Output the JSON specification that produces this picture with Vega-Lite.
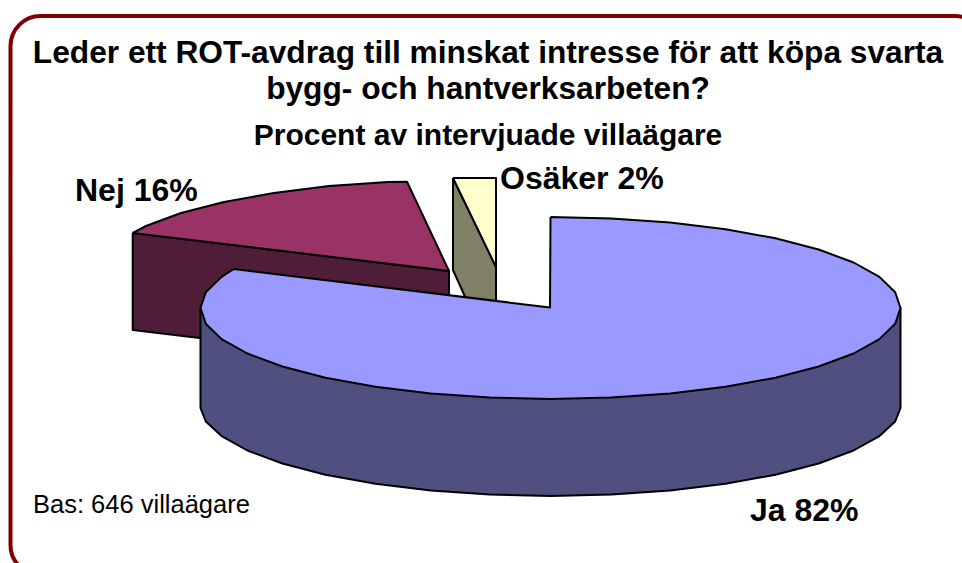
{
"$schema":"https://vega.github.io/schema/vega-lite/v6.json",
"width":962,"height":563,"padding":0,"autosize":{"type":"none"},
"background":"white",
"config":{"view":{"stroke":null}},
"title":{"text":["Leder ett ROT-avdrag till minskat intresse för att köpa svarta","bygg- och hantverksarbeten?"],"subtitle":"Procent av intervjuade villaägare","anchor":"start","frame":"group","align":"center","dx":488,"baseline":"alphabetic","offset":-176,"font":"Liberation Sans","fontSize":31.7,"fontWeight":"bold","lineHeight":36,"color":"black","subtitleFont":"Liberation Sans","subtitleFontSize":30,"subtitleFontWeight":"bold","subtitleColor":"black","subtitlePadding":14},
"datasets":{
"frame":[{"x":10.5,"x2":985,"y":16,"y2":575}],
"outline":[
{"face":"Nej sida","i":0,"x":132.7,"y":233},{"face":"Nej sida","i":1,"x":449,"y":271},{"face":"Nej sida","i":2,"x":449,"y":368},{"face":"Nej sida","i":3,"x":132.7,"y":330},{"face":"Nej sida","i":4,"x":132.7,"y":233},
{"face":"Nej","i":0,"x":132.7,"y":233},{"face":"Nej","i":1,"x":146,"y":226},{"face":"Nej","i":2,"x":181,"y":213},{"face":"Nej","i":3,"x":224,"y":202},{"face":"Nej","i":4,"x":274,"y":193},{"face":"Nej","i":5,"x":329,"y":186},{"face":"Nej","i":6,"x":388,"y":182},{"face":"Nej","i":7,"x":407,"y":181.7},{"face":"Nej","i":8,"x":449,"y":271},{"face":"Nej","i":9,"x":132.7,"y":233},
{"face":"Osäker sida","i":0,"x":453,"y":178},{"face":"Osäker sida","i":1,"x":496,"y":267},{"face":"Osäker sida","i":2,"x":496,"y":310},{"face":"Osäker sida","i":3,"x":471,"y":310},{"face":"Osäker sida","i":4,"x":453,"y":270},{"face":"Osäker sida","i":5,"x":453,"y":178},
{"face":"Osäker","i":0,"x":453,"y":178},{"face":"Osäker","i":1,"x":496,"y":178},{"face":"Osäker","i":2,"x":496,"y":267},{"face":"Osäker","i":3,"x":453,"y":178},
{"face":"Ja sida","i":0,"x":200.5,"y":308},{"face":"Ja sida","i":1,"x":200.5,"y":408},{"face":"Ja sida","i":2,"x":205.8,"y":421.5},{"face":"Ja sida","i":3,"x":221.6,"y":436.1},{"face":"Ja sida","i":4,"x":247.4,"y":450.5},{"face":"Ja sida","i":5,"x":282.4,"y":463.5},{"face":"Ja sida","i":6,"x":325.5,"y":474.7},{"face":"Ja sida","i":7,"x":375.5,"y":483.8},{"face":"Ja sida","i":8,"x":430.8,"y":490.5},{"face":"Ja sida","i":9,"x":489.7,"y":494.6},{"face":"Ja sida","i":10,"x":550.5,"y":496},{"face":"Ja sida","i":11,"x":611.3,"y":494.6},{"face":"Ja sida","i":12,"x":670.2,"y":490.5},{"face":"Ja sida","i":13,"x":725.5,"y":483.8},{"face":"Ja sida","i":14,"x":775.5,"y":474.7},{"face":"Ja sida","i":15,"x":818.6,"y":463.5},{"face":"Ja sida","i":16,"x":853.6,"y":450.5},{"face":"Ja sida","i":17,"x":879.4,"y":436.1},{"face":"Ja sida","i":18,"x":895.2,"y":421.5},{"face":"Ja sida","i":19,"x":900.5,"y":408},{"face":"Ja sida","i":20,"x":900.5,"y":308},{"face":"Ja sida","i":21,"x":200.5,"y":308},
{"face":"Ja","i":0,"x":550.5,"y":217},{"face":"Ja","i":1,"x":611.3,"y":218.4},{"face":"Ja","i":2,"x":670.2,"y":222.5},{"face":"Ja","i":3,"x":725.5,"y":229.2},{"face":"Ja","i":4,"x":775.5,"y":238.3},{"face":"Ja","i":5,"x":818.6,"y":249.5},{"face":"Ja","i":6,"x":853.6,"y":262.5},{"face":"Ja","i":7,"x":879.4,"y":276.9},{"face":"Ja","i":8,"x":895.2,"y":292.2},{"face":"Ja","i":9,"x":900.5,"y":308},{"face":"Ja","i":10,"x":895.2,"y":323.8},{"face":"Ja","i":11,"x":879.4,"y":339.1},{"face":"Ja","i":12,"x":853.6,"y":353.5},{"face":"Ja","i":13,"x":818.6,"y":366.5},{"face":"Ja","i":14,"x":775.5,"y":377.7},{"face":"Ja","i":15,"x":725.5,"y":386.8},{"face":"Ja","i":16,"x":670.2,"y":393.5},{"face":"Ja","i":17,"x":611.3,"y":397.6},{"face":"Ja","i":18,"x":550.5,"y":399},{"face":"Ja","i":19,"x":489.7,"y":397.6},{"face":"Ja","i":20,"x":430.8,"y":393.5},{"face":"Ja","i":21,"x":375.5,"y":386.8},{"face":"Ja","i":22,"x":325.5,"y":377.7},{"face":"Ja","i":23,"x":282.4,"y":366.5},{"face":"Ja","i":24,"x":247.4,"y":353.5},{"face":"Ja","i":25,"x":221.6,"y":339.1},{"face":"Ja","i":26,"x":205.8,"y":323.8},{"face":"Ja","i":27,"x":200.5,"y":308},{"face":"Ja","i":28,"x":205.8,"y":292.2},{"face":"Ja","i":29,"x":221.6,"y":276.9},{"face":"Ja","i":30,"x":233.8,"y":269},{"face":"Ja","i":31,"x":550,"y":307.5},{"face":"Ja","i":32,"x":550.5,"y":217}
],
"slices":[
{"label":"Nej 16%","x":75,"y":201},
{"label":"Osäker 2%","x":500,"y":189},
{"label":"Ja 82%","x":750,"y":521}
],
"notes":[{"label":"Bas: 646 villaägare","x":33,"y":513}]
},
"layer":[
{"data":{"name":"frame"},"mark":{"type":"rect","fill":"white","stroke":"#800000","strokeWidth":4,"cornerRadius":30,"clip":false},
 "encoding":{"x":{"field":"x","type":"quantitative","scale":{"domain":[0,962],"nice":false,"zero":false},"axis":null},"x2":{"field":"x2"},"y":{"field":"y","type":"quantitative","scale":{"domain":[563,0],"nice":false,"zero":false},"axis":null},"y2":{"field":"y2"}}},
{"data":{"name":"outline"},"mark":{"type":"line","stroke":"black","strokeWidth":2,"strokeJoin":"round"},
 "encoding":{"x":{"field":"x","type":"quantitative","axis":null},"y":{"field":"y","type":"quantitative","axis":null},"order":{"field":"i","type":"quantitative"},"detail":{"field":"face"},
 "fill":{"field":"face","type":"nominal","legend":null,"scale":{"domain":["Nej sida","Nej","Osäker sida","Osäker","Ja sida","Ja"],"range":["#4F1D38","#993366","#808066","#FFFFCC","#4F4F80","#9999FF"]}}}},
{"data":{"name":"slices"},"mark":{"type":"text","align":"left","baseline":"alphabetic","font":"Liberation Sans","fontWeight":"bold","fontSize":32,"color":"black"},
 "encoding":{"x":{"field":"x","type":"quantitative","axis":null},"y":{"field":"y","type":"quantitative","axis":null},"text":{"field":"label"}}},
{"data":{"name":"notes"},"mark":{"type":"text","align":"left","baseline":"alphabetic","font":"Liberation Sans","fontSize":25.5,"color":"black"},
 "encoding":{"x":{"field":"x","type":"quantitative","axis":null},"y":{"field":"y","type":"quantitative","axis":null},"text":{"field":"label"}}}
],
"resolve":{"scale":{"x":"shared","y":"shared"}}
}
